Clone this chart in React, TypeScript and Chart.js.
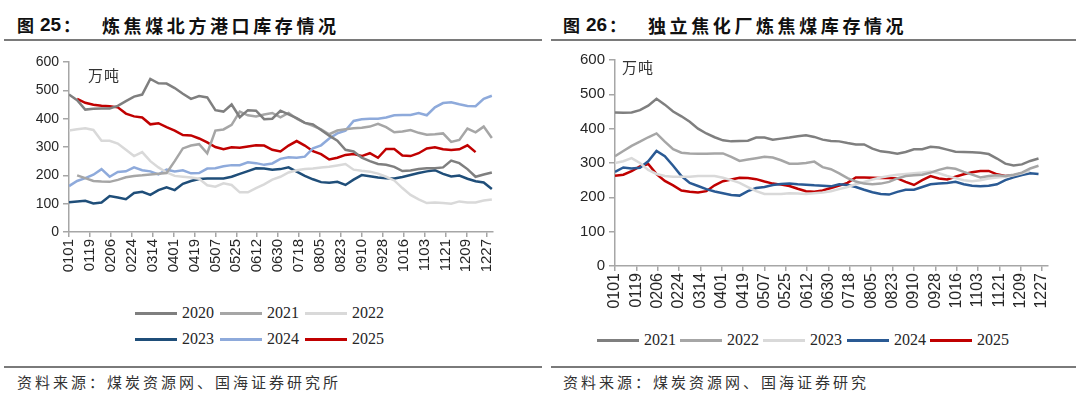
import React, { useEffect, useRef } from 'react';
import { Chart, registerables } from 'chart.js';

Chart.register(...registerables);

// ---------- shared axis data ----------
const tickLabels = ['0101', '0119', '0206', '0224', '0314', '0401', '0419', '0507', '0525', '0612', '0630', '0718', '0805', '0823', '0910', '0928', '1016', '1103', '1121', '1209', '1227'];
const tickStepDays = 18;
const sampleStepDays = 7;
const yTicks = [0, 100, 200, 300, 400, 500, 600];

// ---------- 图25 炼焦煤北方港口库存 (万吨), weekly ----------
const left2020 = [485, 465, 432, 435, 436, 436, 445, 462, 478, 485, 540, 525, 524, 508, 488, 470, 480, 475, 430, 425, 450, 405, 430, 428, 398, 400, 428, 415, 402, 385, 380, 360, 340, 322, 290, 284, 262, 250, 240, 237, 230, 215, 217, 222, 225, 225, 228, 252, 243, 222, 195, 203, 210];
const left2021 = [null, 200, 190, 180, 178, 177, 184, 193, 198, 200, 203, 206, 208, 250, 295, 305, 310, 278, 358, 362, 378, 425, 412, 408, 415, 420, 405, 420, 400, 385, 375, 362, 345, 358, 363, 366, 368, 372, 382, 370, 352, 355, 360, 350, 343, 345, 348, 318, 325, 365, 352, 372, 332];
const left2022 = [358, 363, 366, 360, 322, 322, 312, 290, 268, 282, 250, 228, 210, 198, 195, 192, 188, 165, 160, 172, 166, 140, 140, 155, 168, 185, 195, 210, 218, 222, 224, 228, 230, 235, 240, 220, 216, 213, 206, 195, 182, 155, 131, 115, 102, 104, 102, 100, 108, 104, 104, 111, 115];
const left2023 = [105, 108, 110, 101, 104, 127, 122, 116, 138, 142, 131, 148, 158, 148, 170, 180, 187, 189, 189, 189, 195, 205, 215, 225, 224, 220, 222, 228, 213, 198, 186, 176, 174, 177, 166, 185, 201, 197, 192, 190, 189, 194, 201, 208, 214, 218, 205, 196, 199, 188, 179, 175, 152];
const left2024 = [162, 180, 190, 202, 222, 195, 212, 214, 228, 218, 214, 203, 220, 214, 218, 207, 208, 224, 225, 232, 236, 236, 246, 243, 237, 242, 258, 264, 262, 266, 295, 306, 330, 348, 358, 392, 398, 400, 400, 404, 412, 413, 413, 420, 412, 440, 455, 458, 451, 445, 444, 470, 481];
const left2025 = [null, 470, 456, 449, 446, 444, 440, 418, 408, 404, 380, 384, 370, 358, 342, 341, 330, 316, 300, 292, 299, 297, 302, 306, 305, 290, 284, 305, 321, 305, 285, 275, 256, 262, 272, 275, 268, 278, 262, 293, 293, 270, 268, 278, 295, 299, 292, 289, 292, 306, 282, null, null];

const leftNames = ['2020', '2021', '2022', '2023', '2024', '2025'];
const leftColors = ['#7f7f7f', '#a6a6a6', '#d9d9d9', '#1f4e79', '#8eaadb', '#c00000'];
const leftValues = [left2020, left2021, left2022, left2023, left2024, left2025];

// ---------- 图26 独立焦化厂炼焦煤库存 (万吨), weekly ----------
const right2021 = [447, 446, 447, 454, 467, 487, 470, 450, 436, 420, 400, 386, 375, 366, 363, 364, 365, 374, 374, 368, 371, 374, 378, 381, 376, 368, 364, 363, 358, 354, 354, 342, 334, 331, 327, 332, 340, 340, 347, 345, 339, 333, 332, 331, 330, 326, 313, 298, 293, 296, 306, 313];
const right2022 = [320, 335, 350, 362, 375, 386, 362, 340, 330, 328, 327, 327, 328, 328, 318, 306, 310, 314, 318, 316, 308, 298, 298, 300, 304, 288, 282, 270, 256, 246, 240, 238, 240, 245, 255, 262, 264, 266, 272, 280, 286, 283, 274, 266, 258, 262, 264, 262, 266, 272, 284, 292];
const right2023 = [300, 305, 314, 300, 280, 268, 262, 260, 260, 260, 262, 262, 262, 257, 250, 242, 230, 218, 210, 210, 210, 212, 211, 210, 212, 214, 218, 224, 230, 238, 245, 252, 258, 262, 266, 268, 270, 272, 275, 270, 262, 256, 250, 247, 250, 255, 258, 260, 264, 270, 278, null];
const right2024 = [274, 287, 284, 286, 305, 335, 320, 292, 262, 242, 233, 224, 217, 212, 207, 205, 218, 227, 230, 236, 239, 240, 238, 237, 235, 234, 232, 238, 236, 230, 222, 215, 210, 208, 216, 222, 222, 230, 238, 240, 242, 245, 238, 234, 232, 234, 238, 250, 258, 265, 270, 268];
const right2025 = [263, 266, 276, 290, 297, 268, 248, 235, 220, 216, 214, 218, 235, 247, 252, 257, 256, 253, 246, 240, 237, 233, 225, 218, 216, 220, 227, 234, 242, 258, 258, 257, 256, 256, 255, 245, 236, 250, 262, 255, 252, 260, 267, 273, 277, 277, 267, 262, 264, 270, null, null];

const rightNames = ['2021', '2022', '2023', '2024', '2025'];
const rightColors = ['#7f7f7f', '#a6a6a6', '#d9d9d9', '#2a5a94', '#c00000'];
const rightValues = [right2021, right2022, right2023, right2024, right2025];

// ---------- styling ----------
const axisColor = '#a6a6a6';
const labelColor = '#262626';
const cjk = '"Noto Sans CJK SC", sans-serif';

type ChartBox = { width: number; height: number; areaLeft: number; areaRight: number; areaTop: number; areaBottom: number; yFont: number; xFont: number };

function buildConfig(names: string[], colors: string[], values: (number | null)[][], box: ChartBox): any {
  const family = '"Liberation Sans", Arial, sans-serif';
  return {
    type: 'line',
    data: {
      datasets: names.map((n, k) => ({
        label: n,
        data: values[k].map((v, i) => ({ x: i * sampleStepDays, y: v })),
        borderColor: colors[k],
        backgroundColor: colors[k],
        borderWidth: 2.5,
        pointRadius: 0,
        tension: 0,
        fill: false,
        spanGaps: false,
      })),
    },
    options: {
      animation: false,
      responsive: false,
      maintainAspectRatio: false,
      layout: { padding: { left: 0, top: box.areaTop, right: box.width - box.areaRight, bottom: 0 } },
      plugins: { legend: { display: false }, tooltip: { enabled: false }, title: { display: false } },
      scales: {
        x: {
          type: 'linear',
          min: 0,
          max: 365,
          afterBuildTicks: (axis: any) => {
            axis.ticks = tickLabels.map((_, k) => ({ value: k * tickStepDays }));
          },
          afterFit: (s: any) => {
            s.height = box.height - box.areaBottom;
          },
          ticks: {
            autoSkip: false,
            minRotation: 90,
            maxRotation: 90,
            padding: 2,
            color: labelColor,
            font: { family, size: box.xFont },
            callback: (_v: any, idx: number) => tickLabels[idx],
          },
          grid: { drawOnChartArea: false, drawTicks: true, tickLength: 5, color: axisColor, lineWidth: 1.5 },
          border: { color: axisColor, width: 1.5 },
        },
        y: {
          min: 0,
          max: 600,
          afterBuildTicks: (axis: any) => {
            axis.ticks = yTicks.map((v) => ({ value: v }));
          },
          afterFit: (s: any) => {
            s.width = box.areaLeft;
          },
          ticks: { padding: 4, color: labelColor, font: { family, size: box.yFont }, callback: (v: any) => String(v) },
          grid: { drawOnChartArea: false, drawTicks: true, tickLength: 6, color: axisColor, lineWidth: 1.5 },
          border: { color: axisColor, width: 1.5 },
        },
      },
    },
  };
}

function LineChart({ left, top, box, names, colors, values }: { left: number; top: number; box: ChartBox; names: string[]; colors: string[]; values: (number | null)[][] }) {
  const ref = useRef<HTMLCanvasElement | null>(null);
  useEffect(() => {
    if (!ref.current) return;
    const chart = new Chart(ref.current, buildConfig(names, colors, values, box));
    return () => chart.destroy();
  }, []);
  return (
    <canvas
      ref={ref}
      width={box.width}
      height={box.height}
      style={{ position: 'absolute', left, top, width: box.width, height: box.height }}
    />
  );
}

function Legend({ names, colors, positions }: { names: string[]; colors: string[]; positions: { x: number; y: number }[] }) {
  return (
    <>
      {names.map((n, k) => (
        <div key={n} style={{ position: 'absolute', left: positions[k].x, top: positions[k].y - 10, height: 20, display: 'flex', alignItems: 'center' }}>
          <div style={{ width: 42, height: 3, background: colors[k] }} />
          <span style={{ marginLeft: 5, fontFamily: '"Liberation Serif", "Times New Roman", serif', fontSize: 16, color: labelColor, lineHeight: '20px' }}>{n}</span>
        </div>
      ))}
    </>
  );
}

function Title({ x, num, text }: { x: number; num: string; text: string }) {
  return (
    <div style={{ position: 'absolute', left: x, top: 13, height: 24, whiteSpace: 'nowrap', color: '#111', fontWeight: 700, lineHeight: '24px' }}>
      <span style={{ position: 'absolute', left: 0, top: 0, fontFamily: cjk, fontSize: 17 }}>图</span>
      <span style={{ position: 'absolute', left: 23, top: 0, fontFamily: '"Liberation Sans", Arial, sans-serif', fontSize: 19 }}>{num}</span>
      <span style={{ position: 'absolute', left: 46, top: 0, fontFamily: cjk, fontSize: 17 }}>：</span>
      <span style={{ position: 'absolute', left: 85, top: 0, fontFamily: cjk, fontSize: 18, letterSpacing: 3.6 }}>{text}</span>
    </div>
  );
}

function Source({ x, text }: { x: number; text: string }) {
  return (
    <div style={{ position: 'absolute', left: x, top: 372, height: 20, whiteSpace: 'nowrap', fontFamily: cjk, fontSize: 15, letterSpacing: 3, color: '#333', lineHeight: '20px' }}>
      {text}
    </div>
  );
}

function Rule({ x, y, w }: { x: number; y: number; w: number }) {
  return <div style={{ position: 'absolute', left: x, top: y, width: w, height: 2, background: '#7a7a7a' }} />;
}

function Unit({ x, y }: { x: number; y: number }) {
  return (
    <div style={{ position: 'absolute', left: x, top: y - 10, fontFamily: cjk, fontSize: 15, color: '#333', lineHeight: '20px', letterSpacing: 1 }}>万吨</div>
  );
}

const leftBox: ChartBox = { width: 540, height: 300, areaLeft: 69, areaRight: 493, areaTop: 62, areaBottom: 232, yFont: 14, xFont: 15 };
const rightBox: ChartBox = { width: 540, height: 330, areaLeft: 75, areaRight: 508, areaTop: 60, areaBottom: 266, yFont: 15, xFont: 16 };

export default function App() {
  const leftLegendPos = [
    { x: 135, y: 313 }, { x: 220, y: 313 }, { x: 305, y: 313 },
    { x: 135, y: 339 }, { x: 220, y: 339 }, { x: 305, y: 339 },
  ];
  const rightLegendPos = [
    { x: 597, y: 340 }, { x: 680, y: 340 }, { x: 763, y: 340 }, { x: 847, y: 340 }, { x: 930, y: 340 },
  ];
  return (
    <div style={{ position: 'fixed', left: 0, top: 0, width: 1080, height: 399, background: '#fff', overflow: 'hidden' }}>
      <Title x={17} num="25" text="炼焦煤北方港口库存情况" />
      <Title x={563} num="26" text="独立焦化厂炼焦煤库存情况" />
      <Rule x={4} y={39} w={538} />
      <Rule x={551} y={39} w={525} />
      <LineChart left={0} top={0} box={leftBox} names={leftNames} colors={leftColors} values={leftValues} />
      <LineChart left={540} top={0} box={rightBox} names={rightNames} colors={rightColors} values={rightValues} />
      <Unit x={88} y={75} />
      <Unit x={622} y={67} />
      <Legend names={leftNames} colors={leftColors} positions={leftLegendPos} />
      <Legend names={rightNames} colors={rightColors} positions={rightLegendPos} />
      <Rule x={4} y={366} w={538} />
      <Rule x={551} y={366} w={525} />
      <Source x={17} text="资料来源：煤炭资源网、国海证券研究所" />
      <Source x={563} text="资料来源：煤炭资源网、国海证券研究" />
    </div>
  );
}
